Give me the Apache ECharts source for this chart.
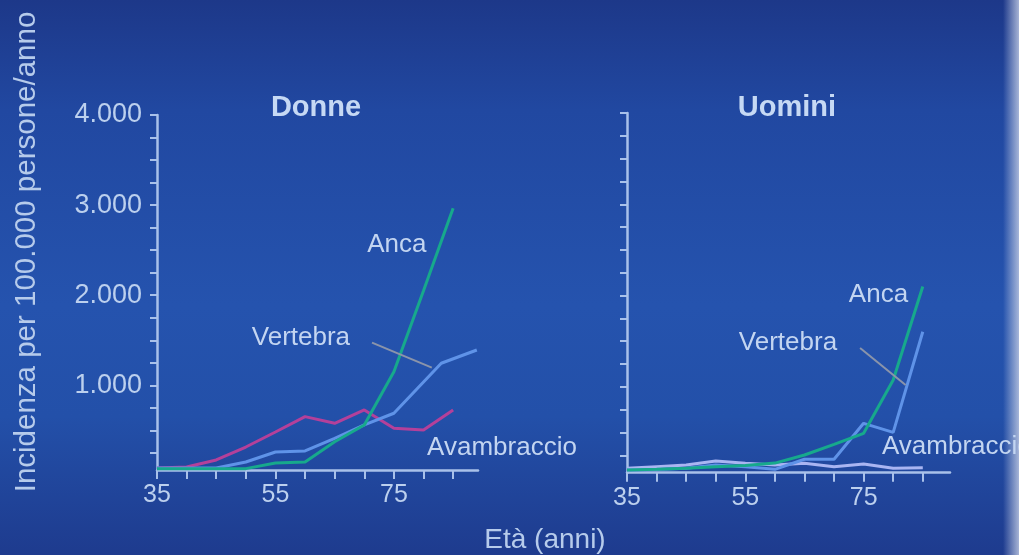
<!DOCTYPE html>
<html>
<head>
<meta charset="utf-8">
<script src="https://cdn.jsdelivr.net/npm/echarts@6/dist/echarts.min.js"></script>
<style>
  html, body { margin: 0; padding: 0; }
  #chart {
    width: 1019px; height: 555px;
    background:
      linear-gradient(to right, rgba(255,255,255,0) 1003px, rgba(190,200,225,0.85) 1019px),
      linear-gradient(to bottom, #1d3889 0%, #2148a1 20%, #2553ae 55%, #2350a9 75%, #1e3b8e 100%);
  }
</style>
</head>
<body>
<div id="chart"></div>
<script>
// ---- data (age in years, incidence per 100.000 persons/year) ----
const ages = [35, 40, 45, 50, 55, 60, 65, 70, 75, 80, 85];
const womenAnca = [75, 75, 75, 75, 138, 149, 374, 560, 1150, 2050, 2965];
const womenVertebraAges = [35, 40, 45, 50, 55, 60, 65, 70, 75, 83, 89];
const womenVertebra = [82, 82, 82, 149, 260, 271, 412, 560, 690, 1245, 1392];
const womenAvambraccio = [82, 93, 171, 315, 482, 652, 578, 726, 524, 504, 726];
const menAnca = [90, 97, 108, 126, 140, 165, 254, 370, 491, 1075, 2100];
const menVertebra = [90, 95, 108, 144, 126, 97, 207, 207, 601, 502, 1604];
const menAvambraccio = [108, 126, 144, 188, 163, 144, 163, 126, 155, 108, 115];

const xTicks = [35, 40, 45, 50, 55, 60, 65, 70, 75, 80, 85];
const xLabels = [35, 55, 75];
const yTicks = [250, 500, 750, 1000, 1250, 1500, 1750, 2000, 2250, 2500, 2750, 3000, 3250, 3500, 3750, 4000];
const yLabels = [1000, 2000, 3000, 4000];

// annotations: [gridIndex, age, value, text]
const seriesLabels = [
  [0, 70.5, 2557, 'Anca'],
  [0, 51.0, 1525, 'Vertebra'],
  [0, 80.6, 304, 'Avambraccio'],
  [1, 72.5, 2006, 'Anca'],
  [1, 53.9, 1480, 'Vertebra'],
  [1, 78.1, 341, 'Avambraccio']
];
const leaderWomen = [[71.3, 1473], [81.4, 1196]];
const leaderMen = [[74.4, 1425], [82.1, 1020]];

const FONT = '"Liberation Sans", Arial, Helvetica, sans-serif';
const AXIS = '#a9c1ea';
const TEXT = '#bcd0ee';
const GREEN = '#17a98c';
const BLUE = '#5f93e8';
const PINK = '#b4409a';
const PALE = '#a9b5f2';

const zip = (xs, ys) => xs.map((x, i) => [x, ys[i]]);

function xAxis(gridIndex, max, showLabels) {
  return {
    type: 'value', gridIndex, min: 35, max,
    axisLine: { show: true, onZero: false, lineStyle: { color: AXIS, width: 2.5 } },
    axisTick: { show: true, inside: false, length: 9, lineStyle: { color: AXIS, width: 2 }, customValues: xTicks },
    axisLabel: { show: showLabels, customValues: xLabels, color: TEXT, fontFamily: FONT, fontSize: 25, margin: 13 },
    splitLine: { show: false }
  };
}
function yAxis(gridIndex, showLabels) {
  return {
    type: 'value', gridIndex, min: 60, max: 4000,
    axisLine: { show: true, onZero: false, lineStyle: { color: AXIS, width: 2.5 } },
    axisTick: { show: true, inside: false, length: 7, lineStyle: { color: AXIS, width: 2 }, customValues: yTicks },
    axisLabel: { show: showLabels, customValues: yLabels, color: TEXT, fontFamily: FONT, fontSize: 27, margin: 15,
      formatter: v => (v / 1000) + '.000' },
    splitLine: { show: false }
  };
}
function line(name, xi, data, color, extra) {
  return Object.assign({
    name, type: 'line', xAxisIndex: xi, yAxisIndex: xi, data,
    showSymbol: false, symbol: 'none', animation: false, clip: false,
    lineStyle: { color, width: 3 }, itemStyle: { color }
  }, extra || {});
}
function leader(coords) {
  return {
    silent: true, symbol: ['none', 'none'], animation: false,
    label: { show: false },
    lineStyle: { color: '#8a94aa', width: 2, type: 'solid' },
    data: [[{ coord: coords[0] }, { coord: coords[1] }]]
  };
}

const chart = echarts.init(document.getElementById('chart'), null, { renderer: 'canvas' });
chart.setOption({
  backgroundColor: 'transparent',
  animation: false,
  title: [
    { text: 'Donne', left: 311, top: 88, textAlign: 'center',
      textStyle: { color: '#c6d9f4', fontFamily: FONT, fontSize: 29, fontWeight: 'bold' } },
    { text: 'Uomini', left: 782, top: 88, textAlign: 'center',
      textStyle: { color: '#c6d9f4', fontFamily: FONT, fontSize: 29, fontWeight: 'bold' } }
  ],
  grid: [
    { left: 157, top: 115, width: 321, height: 355 },
    { left: 627, top: 113, width: 323, height: 359.7 }
  ],
  xAxis: [xAxis(0, 89.2, true), xAxis(1, 89.6, true)],
  yAxis: [yAxis(0, true), yAxis(1, false)],
  series: [
    line('Avambraccio', 0, zip(ages, womenAvambraccio), PINK),
    line('Vertebra', 0, zip(womenVertebraAges, womenVertebra), BLUE, { markLine: leader(leaderWomen) }),
    line('Anca', 0, zip(ages, womenAnca), GREEN),
    line('Avambraccio', 1, zip(ages, menAvambraccio), PALE),
    line('Vertebra', 1, zip(ages, menVertebra), BLUE, { markLine: leader(leaderMen) }),
    line('Anca', 1, zip(ages, menAnca), GREEN)
  ]
});

const graphics = [
  { type: 'text', x: 27, y: 252, rotation: Math.PI / 2,
    style: { text: 'Incidenza per 100.000 persone/anno', fill: '#b6cbeb', font: '29.5px ' + FONT,
      align: 'center', verticalAlign: 'middle', textAlign: 'center', textVerticalAlign: 'middle' } },
  { type: 'text', x: 545, y: 540,
    style: { text: 'Età (anni)', fill: '#b6cbeb', font: '28px ' + FONT,
      align: 'center', verticalAlign: 'middle', textAlign: 'center', textVerticalAlign: 'middle' } }
];
seriesLabels.forEach(([g, x, y, t]) => {
  const p = chart.convertToPixel({ gridIndex: g }, [x, y]);
  graphics.push({ type: 'text', x: p[0], y: p[1],
    style: { text: t, fill: '#c3d5f1', font: '26px ' + FONT,
      align: 'left', verticalAlign: 'middle', textAlign: 'left', textVerticalAlign: 'middle' } });
});
chart.setOption({ graphic: graphics });
</script>
</body>
</html>
